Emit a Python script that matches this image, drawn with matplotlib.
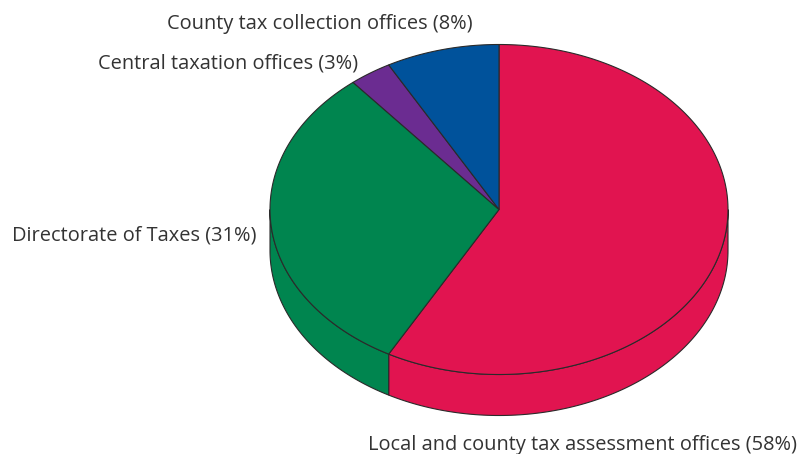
import numpy as np
import matplotlib.pyplot as plt
from matplotlib.patches import Polygon

# share of tax administration staff, clockwise from 12 o'clock
labels = ['Local and county tax assessment offices (58%)',
          'Directorate of Taxes (31%)',
          'Central taxation offices (3%)',
          'County tax collection offices (8%)']
shares = [58, 31, 3, 8]
colors = ['#E11450', '#00854F', '#6B2C91', '#00529B']

# ellipse geometry in pixel units
cx, cy = 499, 209.5
rx, ry = 229, 165
depth = 41
edge = '#2a2a2a'


def pt(a, dy=0):
    # a in degrees, math convention; image y grows downward
    r = np.radians(a)
    return cx + rx * np.cos(r), cy - ry * np.sin(r) + dy


fig = plt.figure(figsize=(8.02, 4.54), dpi=100)
ax = fig.add_axes([0, 0, 1, 1])
ax.set_xlim(0, 802)
ax.set_ylim(454, 0)
ax.axis('off')

bounds = np.cumsum([0] + shares) / 100 * 360
starts = 90 - bounds[:-1]
ends = 90 - bounds[1:]

# side walls (only the front half, angles between 180 and 360)
for a0, a1, c in zip(starts, ends, colors):
    lo, hi = a1, a0
    # shift into the 0..360 window, check overlap with [180, 360]
    for k in (-360, 0, 360):
        s, e = max(lo + k, 180), min(hi + k, 360)
        if s < e:
            aa = np.linspace(s, e, 120)
            top = [pt(a) for a in aa]
            bot = [pt(a, depth) for a in aa[::-1]]
            ax.add_patch(Polygon(top + bot, closed=True, facecolor=c,
                                 edgecolor=edge, lw=0.8, zorder=1))

# top wedges
for a0, a1, c in zip(starts, ends, colors):
    aa = np.linspace(a0, a1, 200)
    verts = [(cx, cy)] + [pt(a) for a in aa]
    ax.add_patch(Polygon(verts, closed=True, facecolor=c,
                         edgecolor=edge, lw=0.8, zorder=2))

txt = dict(fontsize=14.4, color='#333333', family='Open Sans', va='baseline')
ax.text(797, 450, labels[0], ha='right', **txt)
ax.text(257, 240, labels[1], ha='right', **txt)
ax.text(358, 68, labels[2], ha='right', **txt)
ax.text(473, 29, labels[3], ha='right', **txt)

plt.savefig('out.png', dpi=100)
